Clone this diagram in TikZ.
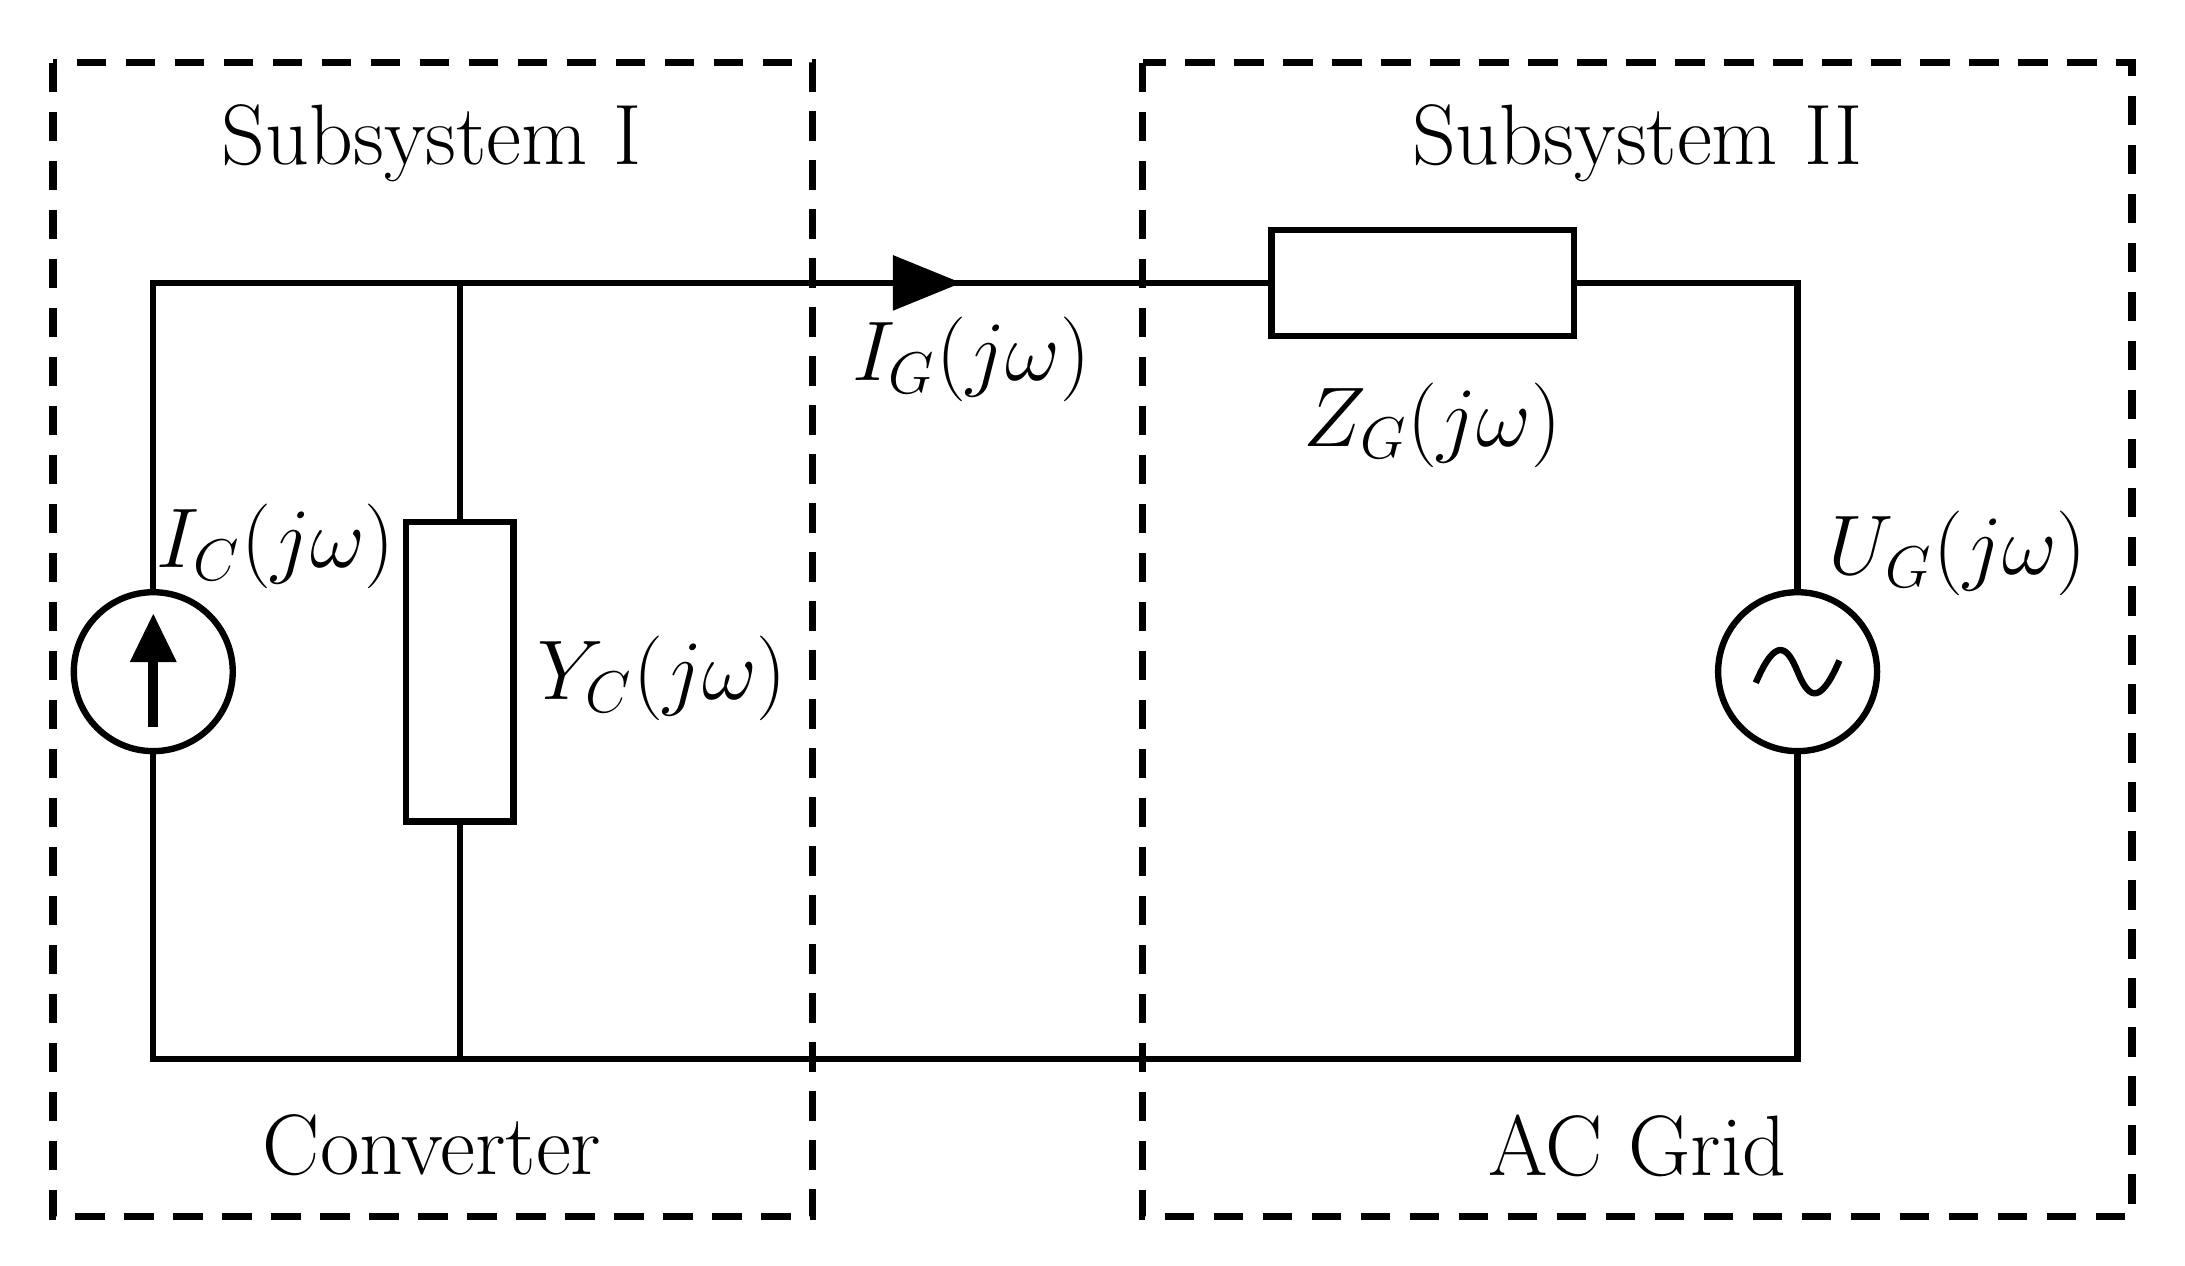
\documentclass[tikz,border=0pt]{standalone}
\usetikzlibrary{arrows.meta}
\begin{document}
\begin{tikzpicture}[x=0.01cm,y=-0.01cm,line width=1.3pt,
  box/.style={dashed,dash pattern=on 6pt off 4pt,line width=1.5pt},
  lbl/.style={font=\fontsize{17.5}{20}\selectfont}]
\useasboundingbox (0,0) rectangle (1568,908);
\draw[box] (38,45) rectangle (583,873);
\draw[box] (820,45) rectangle (1530,873);
\coordinate (tl) at (110,203); \coordinate (tm) at (330,203); \coordinate (tr) at (1290,203);
\coordinate (bl) at (110,760); \coordinate (bm) at (330,760); \coordinate (br) at (1290,760);
\draw (tl) -- (tr) -- (br) -- (bl) -- cycle;
\draw (tm) -- (bm);
\node[draw,line width=1.3pt,fill=white,minimum width=0.77cm,minimum height=2.15cm,inner sep=0] (yc) at (330,482) {};
\node[draw,line width=1.3pt,fill=white,minimum width=2.17cm,minimum height=0.76cm,inner sep=0] (zg) at (1021,203) {};
\node[draw,circle,line width=1.3pt,fill=white,minimum size=1.14cm,inner sep=0] (ic) at (110,482) {};
\node[draw,circle,line width=1.3pt,fill=white,minimum size=1.14cm,inner sep=0] (ug) at (1290,482) {};
\draw[-{Triangle[length=10pt,width=9pt]},line width=2pt] (110,522) -- (110,440);
\draw (1260,490) .. controls (1275,455) and (1283,465) .. (1290,482) .. controls (1297,499) and (1305,509) .. (1320,474);
\draw[-{Triangle[length=14pt,width=11pt]}] (600,203) -- (690,203);
\node[lbl] at (310,103) {Subsystem I};
\node[lbl] at (1175,103) {Subsystem II};
\node[lbl] at (310,822) {Converter};
\node[lbl] at (1175,822) {AC Grid};
\node[lbl] at (697,258) {$I_G(j\omega)$};
\node[lbl] at (1028,305) {$Z_G(j\omega)$};
\node[lbl] at (198,392) {$I_C(j\omega)$};
\node[lbl] at (475,487) {$Y_C(j\omega)$};
\node[lbl] at (1405,397) {$U_G(j\omega)$};
\end{tikzpicture}
\end{document}
